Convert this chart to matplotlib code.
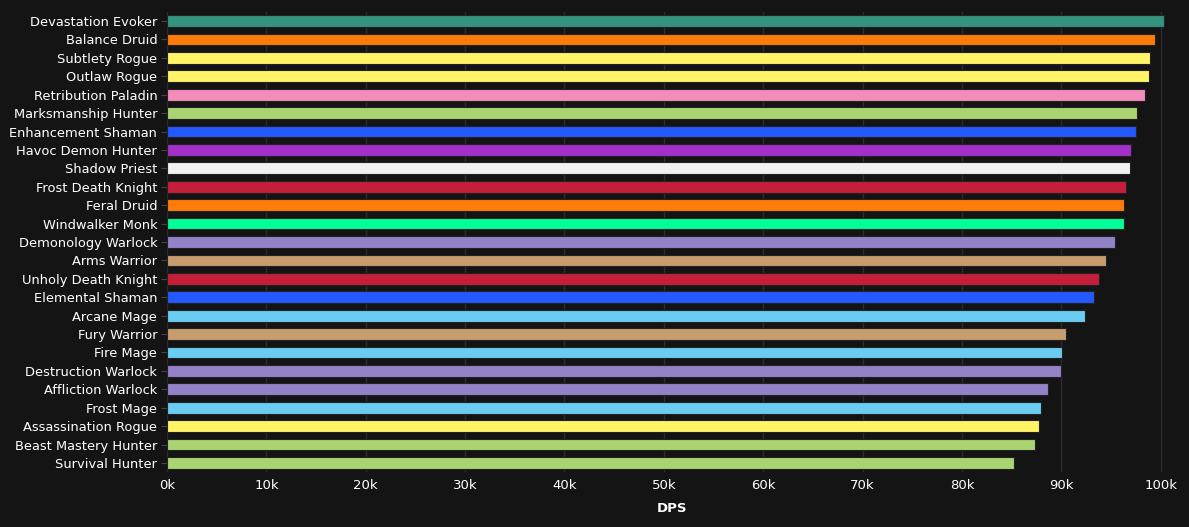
import matplotlib.pyplot as plt
from matplotlib.ticker import FuncFormatter

# Данные (DPS по специализациям)
specs = ['Devastation Evoker', 'Balance Druid', 'Subtlety Rogue', 'Outlaw Rogue',
         'Retribution Paladin', 'Marksmanship Hunter', 'Enhancement Shaman',
         'Havoc Demon Hunter', 'Shadow Priest', 'Frost Death Knight', 'Feral Druid',
         'Windwalker Monk', 'Demonology Warlock', 'Arms Warrior', 'Unholy Death Knight',
         'Elemental Shaman', 'Arcane Mage', 'Fury Warrior', 'Fire Mage',
         'Destruction Warlock', 'Affliction Warlock', 'Frost Mage',
         'Assassination Rogue', 'Beast Mastery Hunter', 'Survival Hunter']
dps = [100300, 99400, 98900, 98800, 98400, 97600, 97500, 97000, 96900, 96500,
       96300, 96300, 95400, 94500, 93800, 93300, 92400, 90500, 90100, 90000,
       88700, 88000, 87800, 87400, 85200]
classes = ['Evoker', 'Druid', 'Rogue', 'Rogue', 'Paladin', 'Hunter', 'Shaman',
           'Demon Hunter', 'Priest', 'Death Knight', 'Druid', 'Monk', 'Warlock',
           'Warrior', 'Death Knight', 'Shaman', 'Mage', 'Warrior', 'Mage',
           'Warlock', 'Warlock', 'Mage', 'Rogue', 'Hunter', 'Hunter']

class_colors = {
    'Evoker': '#33937F', 'Druid': '#FF7C0A', 'Rogue': '#FFF468', 'Paladin': '#F48CBA',
    'Hunter': '#AAD372', 'Shaman': '#2459FF', 'Demon Hunter': '#A330C9',
    'Priest': '#F0F0F0', 'Death Knight': '#C41E3A', 'Monk': '#00FF98',
    'Warlock': '#9482C9', 'Warrior': '#C79C6E', 'Mage': '#69CCF0',
}

bg = '#141414'
fig = plt.figure(figsize=(11.89, 5.27), dpi=100, facecolor=bg)
ax = fig.add_axes([0.1405, 0.104, 0.849, 0.8736])
ax.set_facecolor(bg)

pos = list(range(len(specs)))
colors = [class_colors[c] for c in classes]
ax.barh(pos, dps, height=0.64, color=colors, edgecolor='#222222', linewidth=0.8, zorder=3)

ax.set_ylim(len(specs) - 0.5, -0.5)
ax.set_xlim(0, 101600)
ax.set_xticks(range(0, 100001, 10000))
ax.xaxis.set_major_formatter(FuncFormatter(lambda v, p: f'{int(v / 1000)}k'))
ax.set_yticks(pos)
ax.set_yticklabels(specs)

ax.grid(axis='x', color='#2c2c2c', linewidth=1, zorder=0)
for s in ax.spines.values():
    s.set_visible(False)
ax.tick_params(axis='x', length=0, labelsize=9.5, pad=5)
ax.tick_params(axis='y', length=4, colors='#444444', labelsize=9.4, pad=3)
for lbl in ax.get_yticklabels() + ax.get_xticklabels():
    lbl.set_color('white')

ax.set_xlabel('DPS', color='white', fontsize=9.5, fontweight='bold', labelpad=7)

# обрезанная надпись сверху
fig.text(0.142, 0.994, 'Zoom', color='white', fontsize=10, fontweight='bold', va='bottom')

fig.savefig('out.png', facecolor=bg)
